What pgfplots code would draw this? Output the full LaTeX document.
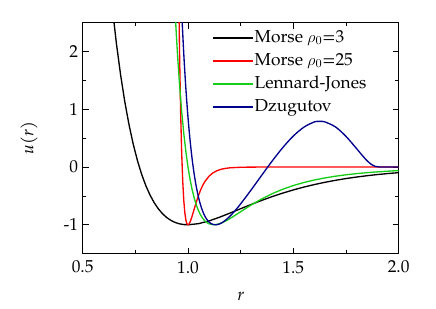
\documentclass[border=0pt]{standalone}
\usepackage{fontspec}
\setmainfont{TeX Gyre Pagella}
\usepackage{pgfplots}
\pgfplotsset{compat=1.18}
\definecolor{mgreen}{rgb}{0.1,0.8,0.1}
\definecolor{mblue}{rgb}{0.0,0.0,0.55}
\begin{document}
\begin{tikzpicture}
\begin{axis}[
  scale only axis, width=237pt, height=173.25pt,
  xmin=0.5, xmax=2.0, ymin=-1.5, ymax=2.5,
  xtick={0.5,1.0,1.5,2.0}, ytick={-1,0,1,2},
  minor xtick={0.75,1.25,1.75}, minor ytick={-0.5,0.5,1.5},
  xticklabel style={/pgf/number format/fixed,/pgf/number format/fixed zerofill,/pgf/number format/precision=1, yshift=-2pt},
  /pgf/number format/assume math mode=true,
  tick align=inside, major tick length=4.5pt, minor tick length=2.5pt,
  tick style={black, line width=0.6pt},
  axis line style={line width=0.7pt},
  tick label style={font=\fontsize{13}{15}\selectfont},
  label style={font=\fontsize{13}{15}\selectfont},
  xlabel={\textit{r}}, ylabel={\textit{u}(\textit{r})},
  xlabel style={at={(rel axis cs:0.5,-0.185)}, anchor=center},
  ylabel style={at={(rel axis cs:-0.17,0.5)}, anchor=center, rotate=0},
  legend style={draw=none, fill=none, at={(0.405,0.985)}, anchor=north west,
    font=\fontsize{13}{15}\selectfont, row sep=1.75pt, inner sep=1pt,
    nodes={inner sep=1pt, text height=10pt, text depth=3.5pt}},
  legend cell align=left,
  legend image code/.code={\draw[#1] (0cm,0cm) -- (1.05cm,0cm);},
  every axis plot/.append style={line width=1pt},
]
\addplot[black] coordinates {
(0.64,2.782)(0.66,2.144)(0.68,1.598)(0.70,1.1304)(0.72,0.7329)(0.74,0.3959)(0.76,0.1118)(0.78,-0.1261)(0.80,-0.3241)(0.82,-0.4873)(0.84,-0.6204)(0.86,-0.7275)(0.88,-0.8122)(0.90,-0.8775)(0.92,-0.9265)(0.94,-0.9611)(0.96,-0.9837)(0.98,-0.9962)(1.00,-1.0)(1.05,-0.9806)(1.10,-0.9328)(1.15,-0.8687)(1.20,-0.7964)(1.25,-0.7216)(1.30,-0.6479)(1.35,-0.5774)(1.40,-0.5117)(1.45,-0.4512)(1.50,-0.3965)(1.55,-0.3471)(1.60,-0.3033)(1.65,-0.2643)(1.70,-0.2300)(1.75,-0.1997)(1.80,-0.1732)(1.85,-0.1501)(1.90,-0.1299)(1.95,-0.1123)(2.00,-0.0971)
};
\addlegendentry{Morse $\rho_0$=3}
\addplot[red] coordinates {
(0.955,3.327)(0.96,1.9525)(0.965,0.9569)(0.97,0.2477)(0.975,-0.2462)(0.98,-0.5792)(0.985,-0.7930)(0.99,-0.9193)(0.995,-0.9823)(1.00,-1.0)(1.005,-0.9862)(1.01,-0.9511)(1.015,-0.9022)(1.02,-0.8452)(1.03,-0.7216)(1.04,-0.6004)(1.05,-0.4909)(1.06,-0.3965)(1.07,-0.3174)(1.08,-0.2523)(1.10,-0.1575)(1.12,-0.0971)(1.14,-0.0595)(1.16,-0.0363)(1.18,-0.0221)(1.20,-0.0134)(1.25,-0.0039)(1.30,-0.0011)(1.40,-0.0001)(2.00,0)
};
\addlegendentry{Morse $\rho_0$=25}
\addplot[mgreen] coordinates {
(0.935,3.0)(0.94,2.606)(0.945,2.270)(0.95,1.961)(0.96,1.418)(0.97,0.963)(0.98,0.582)(0.99,0.264)(1.00,0)(1.01,-0.2184)(1.02,-0.3978)(1.03,-0.5444)(1.04,-0.6629)(1.05,-0.7575)(1.06,-0.8319)(1.07,-0.8894)(1.08,-0.9322)(1.09,-0.9629)(1.10,-0.9834)(1.1225,-1.0)(1.14,-0.9921)(1.16,-0.9679)(1.18,-0.9328)(1.20,-0.8910)(1.25,-0.7736)(1.30,-0.6571)(1.35,-0.5516)(1.40,-0.4607)(1.45,-0.3841)(1.50,-0.3204)(1.55,-0.2676)(1.60,-0.2242)(1.65,-0.1886)(1.70,-0.1588)(1.75,-0.1344)(1.80,-0.1141)(1.85,-0.0975)(1.90,-0.0834)(1.95,-0.0715)(2.00,-0.0615)
};
\addlegendentry{Lennard-Jones}
\addplot[mblue, smooth] coordinates {
(0.96,3.590)(0.965,3.1195)(0.97,2.6935)(0.98,1.9578)(0.99,1.3545)(1.00,0.8606)(1.01,0.4570)(1.02,0.1282)(1.03,-0.1384)(1.04,-0.3536)(1.05,-0.5256)(1.06,-0.6619)(1.07,-0.7683)(1.08,-0.8494)(1.09,-0.9098)(1.10,-0.9523)(1.11,-0.9802)(1.12,-0.9952)(1.13,-1.0)(1.14,-0.9961)(1.15,-0.9846)(1.16,-0.9666)(1.18,-0.9151)(1.20,-0.8479)(1.22,-0.7694)(1.25,-0.6372)(1.30,-0.3948)(1.35,-0.1421)(1.40,0.1061)(1.45,0.3372)(1.50,0.5372)(1.55,0.6903)(1.60,0.7818)(1.62,0.7898)(1.63,0.7907)(1.65,0.7816)(1.70,0.6950)(1.75,0.5304)(1.80,0.3201)(1.83,0.1892)(1.85,0.1096)(1.87,0.0465)(1.89,0.0099)(1.91,0.0003)(1.94,0)(2.00,0)
};
\addlegendentry{Dzugutov}
\end{axis}
\path ([shift={(-62pt,-41pt)}]current axis.south west) rectangle ([shift={(28pt,17pt)}]current axis.north east);
\end{tikzpicture}
\end{document}
